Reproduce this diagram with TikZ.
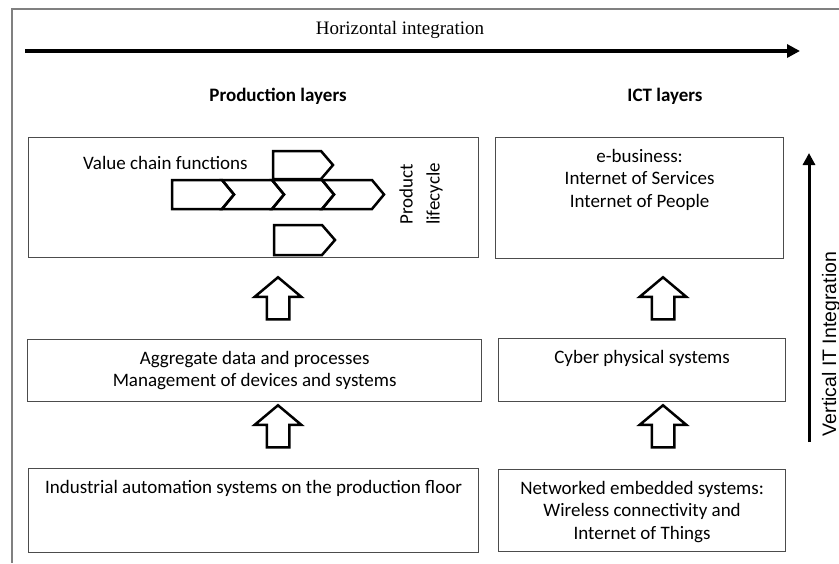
\documentclass[tikz,border=0pt]{standalone}
\usepackage{fontspec}
\setmainfont{Carlito}
\newfontfamily\titlefont{Liberation Serif}
\newfontfamily\arialfont{Liberation Sans}
\usetikzlibrary{arrows.meta,positioning,shapes.arrows}

\tikzset{
  layerbox/.style={draw=black!70, line width=1.2pt, inner sep=0pt, anchor=north west},
  boxtext/.style={align=center, inner sep=0pt, font=\fontsize{19}{22.5}\selectfont},
  heading/.style={inner sep=0pt, font=\bfseries\fontsize{19}{22}\selectfont},
  blockup/.style={draw, line width=2.5pt, fill=white, single arrow, shape border rotate=90,
    minimum height=42pt, minimum width=46pt, single arrow head extend=12pt,
    single arrow tip angle=100, inner sep=10pt},
  chevron/.style={draw, line width=2.5pt, line join=miter}
}

\begin{document}
\begin{tikzpicture}[x=1pt, y=-1pt]
\useasboundingbox (0,0) rectangle (839,563);

% frame
\draw[gray, line width=1.2pt] (839,9) -- (12,9) -- (12,563);

% horizontal integration
\node[font=\titlefont\fontsize{19}{22}\selectfont] (htitle) at (400,30) {Horizontal integration};
\coordinate (hstart) at (25,51);
\coordinate (hend) at (800,51);
\draw[line width=3.5pt, -{Triangle[length=13pt,width=13pt]}] (hstart) -- (hend);

% headings
\node[heading] (prodhead) at (278,96) {Production layers};
\node[heading] (icthead) at (665,96) {ICT layers};

% production layers
\node[layerbox, minimum width=450pt, minimum height=120pt] (valuechain) at (28,137) {};
\node[layerbox, minimum width=454pt, minimum height=62pt] (aggregate) at (27,339) {};
\node[layerbox, minimum width=450pt, minimum height=84pt] (industrial) at (28,468) {};

% ICT layers
\node[layerbox, minimum width=288pt, minimum height=121pt] (ebusiness) at (495,137) {};
\node[layerbox, minimum width=287pt, minimum height=63pt] (cyber) at (498,338) {};
\node[layerbox, minimum width=287pt, minimum height=82pt] (embedded) at (498,469) {};

% box texts
\node[boxtext, anchor=west] (vctext) at (83,163) {Value chain functions};
\node[boxtext, rotate=90, font=\fontsize{19}{27}\selectfont] (lifecycle) at (421,194) {Product\\lifecycle};
\node[boxtext, below=12pt of aggregate.north] (aggtext) {Aggregate data and processes\\Management of devices and systems};
\node[boxtext, below=12pt of industrial.north] (indtext) {Industrial automation systems on the production floor};
\node[boxtext, below=12pt of ebusiness.north] (ebiztext) {e-business:\\Internet of Services\\Internet of People};
\node[boxtext, below=12pt of cyber.north] (cybertext) {Cyber physical systems};
\node[boxtext, below=12pt of embedded.north] (embtext) {Networked embedded systems:\\Wireless connectivity and\\Internet of Things};

% value chain chevrons
\draw[chevron] (172,180) -- (222,180) -- (234,194.5) -- (222,209) -- (172,209) -- cycle;
\foreach \x in {222,272,322}
  \draw[chevron] (\x,180) -- (\x+50,180) -- (\x+62,194.5) -- (\x+50,209) -- (\x,209) -- (\x+12,194.5) -- cycle;
\draw[chevron] (273,151) -- (321,151) -- (333,165) -- (321,179) -- (273,179) -- cycle;
\draw[chevron] (274,225) -- (322,225) -- (335,240) -- (322,255) -- (274,255) -- cycle;

% block arrows
\node[blockup] (up1) at (278,303) {};
\node[blockup] (up2) at (278,431) {};
\node[blockup] (up3) at (663,303) {};
\node[blockup] (up4) at (663,431) {};

% vertical integration
\coordinate (vstart) at (809,442);
\coordinate (vend) at (809,153);
\draw[line width=3pt, -{Triangle[length=12pt,width=12pt]}] (vstart) -- (vend);
\node[rotate=90, inner sep=0pt, font=\arialfont\fontsize{19.5}{24}\selectfont] (vlabel) at (831,344) {Vertical IT Integration};

\end{tikzpicture}
\end{document}
